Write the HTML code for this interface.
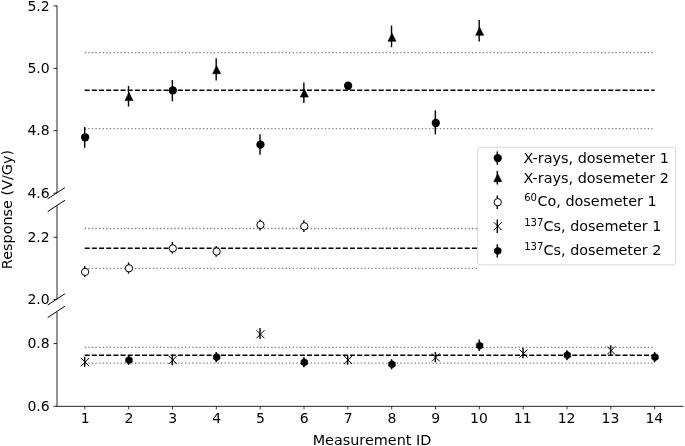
<!DOCTYPE html>
<html><head><meta charset="utf-8"><title>Response vs Measurement ID</title>
<style>html,body{margin:0;padding:0;background:#fff;}svg{display:block;}text{font-family:"DejaVu Sans", "Liberation Sans", sans-serif;fill:#000;}</style>
</head><body>
<svg width="685" height="446" viewBox="0 0 685 446">
<rect width="685" height="446" fill="#fff"/>
<g id="reflines">
<line x1="84.68" y1="52.6" x2="654.54" y2="52.6" stroke="#808080" stroke-width="1.35" stroke-dasharray="1.353 2.233"/>
<line x1="84.68" y1="90.2" x2="654.54" y2="90.2" stroke="#000" stroke-width="1.45" stroke-dasharray="5.006 2.165"/>
<line x1="84.68" y1="128.6" x2="654.54" y2="128.6" stroke="#808080" stroke-width="1.35" stroke-dasharray="1.353 2.233"/>
<line x1="84.68" y1="228.5" x2="477.20" y2="228.5" stroke="#808080" stroke-width="1.35" stroke-dasharray="1.353 2.233"/>
<line x1="84.68" y1="248.25" x2="477.20" y2="248.25" stroke="#000" stroke-width="1.45" stroke-dasharray="5.006 2.165"/>
<line x1="84.68" y1="268.3" x2="477.20" y2="268.3" stroke="#808080" stroke-width="1.35" stroke-dasharray="1.353 2.233"/>
<line x1="84.68" y1="347.4" x2="654.54" y2="347.4" stroke="#808080" stroke-width="1.35" stroke-dasharray="1.353 2.233"/>
<line x1="84.68" y1="355.15" x2="654.54" y2="355.15" stroke="#000" stroke-width="1.45" stroke-dasharray="5.006 2.165"/>
<line x1="84.68" y1="363.05" x2="654.54" y2="363.05" stroke="#808080" stroke-width="1.35" stroke-dasharray="1.353 2.233"/>
</g>
<g id="xr1">
<line x1="84.68" y1="127.0" x2="84.68" y2="147.8" stroke="#000" stroke-width="1.4"/>
<circle cx="85.13" cy="137.3" r="4.15" fill="#000"/>
<line x1="172.35" y1="80" x2="172.35" y2="101.2" stroke="#000" stroke-width="1.4"/>
<circle cx="172.80" cy="90.4" r="4.15" fill="#000"/>
<line x1="260.02" y1="134.2" x2="260.02" y2="154.8" stroke="#000" stroke-width="1.4"/>
<circle cx="260.47" cy="144.65" r="4.15" fill="#000"/>
<line x1="347.69" y1="84.5" x2="347.69" y2="87.3" stroke="#000" stroke-width="1.4"/>
<circle cx="348.14" cy="85.75" r="4.15" fill="#000"/>
<line x1="435.36" y1="110.3" x2="435.36" y2="134.4" stroke="#000" stroke-width="1.4"/>
<circle cx="435.81" cy="123" r="4.15" fill="#000"/>
</g>
<g id="xr2">
<line x1="128.52" y1="85.9" x2="128.52" y2="106.5" stroke="#000" stroke-width="1.4"/>
<polygon points="128.97,92.60 124.97,100.60 132.97,100.60" fill="#000" stroke="#000" stroke-width="0.6" stroke-linejoin="miter"/>
<line x1="216.19" y1="58.3" x2="216.19" y2="80.4" stroke="#000" stroke-width="1.4"/>
<polygon points="216.63,65.70 212.63,73.70 220.63,73.70" fill="#000" stroke="#000" stroke-width="0.6" stroke-linejoin="miter"/>
<line x1="303.86" y1="82.4" x2="303.86" y2="103" stroke="#000" stroke-width="1.4"/>
<polygon points="304.31,89.10 300.31,97.10 308.31,97.10" fill="#000" stroke="#000" stroke-width="0.6" stroke-linejoin="miter"/>
<line x1="391.53" y1="25.6" x2="391.53" y2="47.2" stroke="#000" stroke-width="1.4"/>
<polygon points="391.98,33.20 387.98,41.20 395.98,41.20" fill="#000" stroke="#000" stroke-width="0.6" stroke-linejoin="miter"/>
<line x1="479.19" y1="19.9" x2="479.19" y2="41.6" stroke="#000" stroke-width="1.4"/>
<polygon points="479.64,27.30 475.64,35.30 483.64,35.30" fill="#000" stroke="#000" stroke-width="0.6" stroke-linejoin="miter"/>
</g>
<g id="co1">
<line x1="84.68" y1="266.1" x2="84.68" y2="277.0" stroke="#000" stroke-width="1.4"/>
<circle cx="85.13" cy="271.9" r="3.65" fill="#fff" stroke="#000" stroke-width="1.0"/>
<line x1="128.52" y1="262.5" x2="128.52" y2="273.6" stroke="#000" stroke-width="1.4"/>
<circle cx="128.97" cy="268.3" r="3.65" fill="#fff" stroke="#000" stroke-width="1.0"/>
<line x1="172.35" y1="241.9" x2="172.35" y2="253.5" stroke="#000" stroke-width="1.4"/>
<circle cx="172.80" cy="248.4" r="3.65" fill="#fff" stroke="#000" stroke-width="1.0"/>
<line x1="216.19" y1="246.0" x2="216.19" y2="256.7" stroke="#000" stroke-width="1.4"/>
<circle cx="216.63" cy="251.5" r="3.65" fill="#fff" stroke="#000" stroke-width="1.0"/>
<line x1="260.02" y1="219.4" x2="260.02" y2="230.5" stroke="#000" stroke-width="1.4"/>
<circle cx="260.47" cy="224.9" r="3.65" fill="#fff" stroke="#000" stroke-width="1.0"/>
<line x1="303.86" y1="220.2" x2="303.86" y2="231.9" stroke="#000" stroke-width="1.4"/>
<circle cx="304.31" cy="226.3" r="3.65" fill="#fff" stroke="#000" stroke-width="1.0"/>
</g>
<g id="cs1">
<line x1="84.68" y1="356.8" x2="84.68" y2="366.8" stroke="#000" stroke-width="1.4"/>
<path d="M81.13 358.05L89.13 366.15M81.13 366.15L89.13 358.05" stroke="#000" stroke-width="1" fill="none"/>
<line x1="172.35" y1="354.7" x2="172.35" y2="365.3" stroke="#000" stroke-width="1.4"/>
<path d="M168.80 355.95L176.80 364.05M168.80 364.05L176.80 355.95" stroke="#000" stroke-width="1" fill="none"/>
<line x1="260.02" y1="328.1" x2="260.02" y2="338.9" stroke="#000" stroke-width="1.4"/>
<path d="M256.47 330.15L264.47 338.25M256.47 338.25L264.47 330.15" stroke="#000" stroke-width="1" fill="none"/>
<line x1="347.69" y1="355.2" x2="347.69" y2="364.8" stroke="#000" stroke-width="1.4"/>
<path d="M344.14 355.95L352.14 364.05M344.14 364.05L352.14 355.95" stroke="#000" stroke-width="1" fill="none"/>
<line x1="435.36" y1="352" x2="435.36" y2="362.3" stroke="#000" stroke-width="1.4"/>
<path d="M431.81 353.35L439.81 361.45M431.81 361.45L439.81 353.35" stroke="#000" stroke-width="1" fill="none"/>
<line x1="523.03" y1="347.7" x2="523.03" y2="358.2" stroke="#000" stroke-width="1.4"/>
<path d="M519.48 349.45L527.48 357.55M519.48 357.55L527.48 349.45" stroke="#000" stroke-width="1" fill="none"/>
<line x1="610.70" y1="345.2" x2="610.70" y2="356" stroke="#000" stroke-width="1.4"/>
<path d="M607.15 346.45L615.15 354.55M607.15 354.55L615.15 346.45" stroke="#000" stroke-width="1" fill="none"/>
</g>
<g id="cs2">
<line x1="128.52" y1="355.7" x2="128.52" y2="364.8" stroke="#000" stroke-width="1.4"/>
<polygon points="128.97,356.35 132.27,358.27 132.27,362.12 128.97,364.05 125.67,362.12 125.67,358.27" fill="#000" stroke="#000" stroke-width="0.6"/>
<line x1="216.19" y1="352" x2="216.19" y2="362.3" stroke="#000" stroke-width="1.4"/>
<polygon points="216.63,353.35 219.94,355.27 219.94,359.12 216.63,361.05 213.33,359.12 213.33,355.27" fill="#000" stroke="#000" stroke-width="0.6"/>
<line x1="303.86" y1="357.2" x2="303.86" y2="367.3" stroke="#000" stroke-width="1.4"/>
<polygon points="304.31,358.45 307.61,360.38 307.61,364.23 304.31,366.15 301.00,364.23 301.00,360.38" fill="#000" stroke="#000" stroke-width="0.6"/>
<line x1="391.53" y1="359.2" x2="391.53" y2="369.3" stroke="#000" stroke-width="1.4"/>
<polygon points="391.98,360.45 395.28,362.38 395.28,366.23 391.98,368.15 388.68,366.23 388.68,362.38" fill="#000" stroke="#000" stroke-width="0.6"/>
<line x1="479.19" y1="339.4" x2="479.19" y2="351" stroke="#000" stroke-width="1.4"/>
<polygon points="479.64,341.85 482.94,343.77 482.94,347.62 479.64,349.55 476.34,347.62 476.34,343.77" fill="#000" stroke="#000" stroke-width="0.6"/>
<line x1="566.87" y1="350.2" x2="566.87" y2="360.3" stroke="#000" stroke-width="1.4"/>
<polygon points="567.32,351.35 570.62,353.27 570.62,357.12 567.32,359.05 564.02,357.12 564.02,353.27" fill="#000" stroke="#000" stroke-width="0.6"/>
<line x1="654.54" y1="352" x2="654.54" y2="362.3" stroke="#000" stroke-width="1.4"/>
<polygon points="654.99,353.35 658.29,355.27 658.29,359.12 654.99,361.05 651.69,359.12 651.69,355.27" fill="#000" stroke="#000" stroke-width="0.6"/>
</g>
<g id="axes" stroke="#000" stroke-width="0.85" fill="none">
<line x1="57.0" y1="5.4" x2="57.0" y2="193.2"/>
<line x1="57.0" y1="205.7" x2="57.0" y2="299.45"/>
<line x1="57.0" y1="311.8" x2="57.0" y2="406.35"/>
<line x1="56.5" y1="406.35" x2="683.5" y2="406.35"/>
<line x1="47.7" y1="198.85" x2="64.9" y2="187.55" stroke-width="1"/>
<line x1="47.7" y1="211.55" x2="64.9" y2="200.25" stroke-width="1"/>
<line x1="47.7" y1="305.05" x2="64.9" y2="293.75" stroke-width="1"/>
<line x1="47.7" y1="317.55" x2="64.9" y2="306.25" stroke-width="1"/>
<line x1="53.50" y1="5.9" x2="57.0" y2="5.9"/>
<line x1="53.50" y1="68.35" x2="57.0" y2="68.35"/>
<line x1="53.50" y1="130.65" x2="57.0" y2="130.65"/>
<line x1="53.50" y1="193.2" x2="57.0" y2="193.2"/>
<line x1="53.50" y1="237.25" x2="57.0" y2="237.25"/>
<line x1="53.50" y1="299.45" x2="57.0" y2="299.45"/>
<line x1="53.50" y1="343.6" x2="57.0" y2="343.6"/>
<line x1="53.50" y1="406.3" x2="57.0" y2="406.3"/>
<line x1="84.83" y1="406.35" x2="84.83" y2="409.45" stroke-width="0.75"/>
<line x1="128.67" y1="406.35" x2="128.67" y2="409.45" stroke-width="0.75"/>
<line x1="172.50" y1="406.35" x2="172.50" y2="409.45" stroke-width="0.75"/>
<line x1="216.34" y1="406.35" x2="216.34" y2="409.45" stroke-width="0.75"/>
<line x1="260.17" y1="406.35" x2="260.17" y2="409.45" stroke-width="0.75"/>
<line x1="304.00" y1="406.35" x2="304.00" y2="409.45" stroke-width="0.75"/>
<line x1="347.84" y1="406.35" x2="347.84" y2="409.45" stroke-width="0.75"/>
<line x1="391.68" y1="406.35" x2="391.68" y2="409.45" stroke-width="0.75"/>
<line x1="435.51" y1="406.35" x2="435.51" y2="409.45" stroke-width="0.75"/>
<line x1="479.34" y1="406.35" x2="479.34" y2="409.45" stroke-width="0.75"/>
<line x1="523.18" y1="406.35" x2="523.18" y2="409.45" stroke-width="0.75"/>
<line x1="567.01" y1="406.35" x2="567.01" y2="409.45" stroke-width="0.75"/>
<line x1="610.85" y1="406.35" x2="610.85" y2="409.45" stroke-width="0.75"/>
<line x1="654.69" y1="406.35" x2="654.69" y2="409.45" stroke-width="0.75"/>
</g>
<g id="ylabels" font-size="14.0" text-anchor="end">
<text x="49.7" y="10.60">5.2</text>
<text x="49.7" y="73.05">5.0</text>
<text x="49.7" y="135.35">4.8</text>
<text x="49.7" y="197.90">4.6</text>
<text x="49.7" y="241.95">2.2</text>
<text x="49.7" y="304.15">2.0</text>
<text x="49.7" y="348.30">0.8</text>
<text x="49.7" y="411.00">0.6</text>
</g>
<g id="xlabels" font-size="14.0" text-anchor="middle">
<text x="85.13" y="422.7">1</text>
<text x="128.97" y="422.7">2</text>
<text x="172.80" y="422.7">3</text>
<text x="216.63" y="422.7">4</text>
<text x="260.47" y="422.7">5</text>
<text x="304.31" y="422.7">6</text>
<text x="348.14" y="422.7">7</text>
<text x="391.98" y="422.7">8</text>
<text x="435.81" y="422.7">9</text>
<text x="478.94" y="422.7">10</text>
<text x="522.78" y="422.7">11</text>
<text x="566.62" y="422.7">12</text>
<text x="610.45" y="422.7">13</text>
<text x="654.29" y="422.7">14</text>
</g>
<text x="372.0" y="445.4" font-size="14.4" text-anchor="middle">Measurement ID</text>
<text transform="translate(11.6 209.5) rotate(-90)" font-size="14.4" text-anchor="middle">Response (V/Gy)</text>
<g id="legend">
<rect x="477.7" y="147.2" width="197.8" height="117.7" rx="2.7" ry="2.7" fill="#fff" stroke="#d8d8d8" stroke-width="1"/>
<line x1="497.30" y1="151.4" x2="497.30" y2="164.79999999999998" stroke="#000" stroke-width="1.4"/>
<circle cx="497.75" cy="158.1" r="4.15" fill="#000"/>
<line x1="497.30" y1="171.0" x2="497.30" y2="184.39999999999998" stroke="#000" stroke-width="1.4"/>
<polygon points="497.75,173.70 493.75,181.70 501.75,181.70" fill="#000" stroke="#000" stroke-width="0.6" stroke-linejoin="miter"/>
<line x1="497.30" y1="195.5" x2="497.30" y2="208.89999999999998" stroke="#000" stroke-width="1.4"/>
<circle cx="497.75" cy="202.2" r="3.65" fill="#fff" stroke="#000" stroke-width="1.0"/>
<line x1="497.30" y1="219.5" x2="497.30" y2="232.89999999999998" stroke="#000" stroke-width="1.4"/>
<path d="M493.75 222.15L501.75 230.25M493.75 230.25L501.75 222.15" stroke="#000" stroke-width="1" fill="none"/>
<line x1="497.30" y1="244.20000000000002" x2="497.30" y2="257.6" stroke="#000" stroke-width="1.4"/>
<polygon points="497.75,247.05 501.05,248.97 501.05,252.83 497.75,254.75 494.45,252.83 494.45,248.97" fill="#000" stroke="#000" stroke-width="0.6"/>
<g font-size="14.4">
<text x="523.45" y="163.20">X-rays, dosemeter 1</text>
<text x="523.45" y="182.80">X-rays, dosemeter 2</text>
<text x="524.20" y="206.30"><tspan font-size="10.08" dy="-5.2">60</tspan><tspan dy="5.2" dx="0.4">Co, dosemeter 1</tspan></text>
<text x="524.20" y="230.70"><tspan font-size="10.08" dy="-5.2">137</tspan><tspan dy="5.2">Cs, dosemeter 1</tspan></text>
<text x="524.20" y="254.80"><tspan font-size="10.08" dy="-5.2">137</tspan><tspan dy="5.2">Cs, dosemeter 2</tspan></text>
</g></g>
</svg></body></html>
